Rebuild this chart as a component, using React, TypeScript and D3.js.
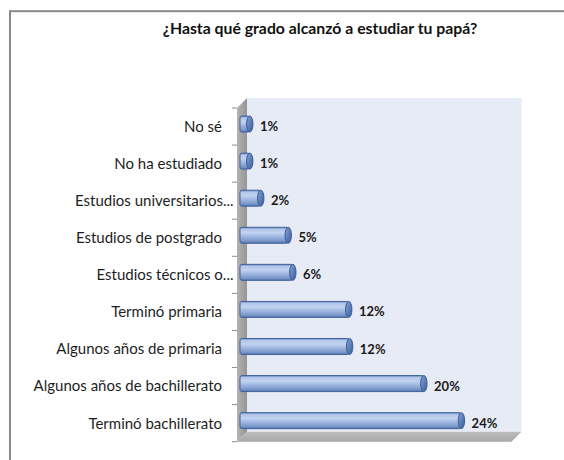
import React from "react";
import * as d3 from "d3";

const title = "¿Hasta qué grado alcanzó a estudiar tu papá?";
const categories = [
  "No sé",
  "No ha estudiado",
  "Estudios universitarios...",
  "Estudios de postgrado",
  "Estudios técnicos o...",
  "Terminó primaria",
  "Algunos años de primaria",
  "Algunos años de bachillerato",
  "Terminó bachillerato",
];
const values = [0.9, 0.9, 2.1, 5.1, 5.6, 11.7, 11.8, 19.9, 24.0];

const W = 564;
const H = 460;
const depthX = 10;
const depthY = 10;
const front = { left: 237, right: 511.5, top: 108, bottom: 441.7 };

export default function App() {
  const y = d3
    .scaleBand<string>()
    .domain(categories)
    .range([front.top, front.bottom])
    .paddingInner(0)
    .paddingOuter(0);
  const x = d3.scaleLinear().domain([0, 30]).range([241.5, 516.4]);
  const barH = 16;
  const capRx = 3.2;
  const barShift = -2.5;

  const backL = front.left + depthX;
  const backR = front.right + depthX;
  const backT = front.top - depthY;
  const backB = front.bottom - depthY;

  const ticks = [...categories.map((c) => y(c) as number), front.bottom];
  const labelFont = "Lato, 'Open Sans', sans-serif";

  return (
    <svg
      width={W}
      height={H}
      style={{ position: "absolute", left: 0, top: 0, background: "#fff" }}
    >
      <defs>
        <linearGradient id="barGrad" x1="0" y1="0" x2="0" y2="1">
          <stop offset="0%" stopColor="#6a88bf" />
          <stop offset="12%" stopColor="#b2c6ea" />
          <stop offset="35%" stopColor="#c2d3f0" />
          <stop offset="60%" stopColor="#9db5e0" />
          <stop offset="85%" stopColor="#7c98cb" />
          <stop offset="100%" stopColor="#5373ab" />
        </linearGradient>
        <linearGradient id="capGrad" x1="0" y1="0" x2="1" y2="1">
          <stop offset="0%" stopColor="#86a3d6" />
          <stop offset="50%" stopColor="#5d7fba" />
          <stop offset="100%" stopColor="#3e5e96" />
        </linearGradient>
        <linearGradient id="sideGrad" x1="0" y1="0" x2="1" y2="0">
          <stop offset="0%" stopColor="#b3b3b3" />
          <stop offset="100%" stopColor="#959595" />
        </linearGradient>
        <linearGradient id="floorGrad" x1="0" y1="0" x2="0" y2="1">
          <stop offset="0%" stopColor="#bdbdbd" />
          <stop offset="100%" stopColor="#a8a8a8" />
        </linearGradient>
      </defs>

      <rect x={10} y={11.2} width={700} height={700} fill="#fff" stroke="#8a8a8a" strokeWidth={2} />

      <text
        x={320}
        y={34}
        textAnchor="middle"
        fontFamily={labelFont}
        fontWeight="bold"
        fontSize={15.8}
        fill="#111"
      >
        {title}
      </text>

      {/* back wall */}
      <rect x={backL} y={backT} width={backR - backL} height={backB - backT} fill="#e7ebf5" />
      {/* side wall */}
      <polygon
        points={`${front.left},${front.top} ${backL},${backT} ${backL},${backB} ${front.left},${front.bottom}`}
        fill="url(#sideGrad)"
      />
      {/* floor */}
      <polygon
        points={`${front.left},${front.bottom} ${backL},${backB} ${backR},${backB} ${front.right},${front.bottom}`}
        fill="url(#floorGrad)"
      />

      {/* ticks */}
      {ticks.map((t, i) => (
        <line key={i} x1={232} x2={front.left} y1={t} y2={t} stroke="#8c8c8c" strokeWidth={1} />
      ))}

      {/* category labels */}
      {categories.map((c) => {
        const cy = (y(c) as number) + y.bandwidth() / 2;
        const ell = c.endsWith("...");
        return (
          <text
            key={c}
            x={ell ? 233.5 : 222}
            y={cy}
            dy="0.36em"
            textAnchor="end"
            fontFamily={labelFont}
            fontSize={15}
            fill="#1e1e1e"
          >
            {c}
          </text>
        );
      })}

      {/* bars */}
      {categories.map((c, i) => {
        const v = values[i];
        const cy = (y(c) as number) + y.bandwidth() / 2 + barShift;
        const x0 = x(0) - 1.5;
        const x1 = x(v);
        return (
          <g key={c}>
            <rect
              x={x0}
              y={cy - barH / 2}
              width={x1 - x0}
              height={barH}
              rx={2}
              fill="url(#barGrad)"
              stroke="#41639c"
              strokeWidth={1}
            />
            <ellipse
              cx={x1}
              cy={cy}
              rx={capRx}
              ry={barH / 2}
              fill="url(#capGrad)"
              stroke="#3a5a92"
              strokeWidth={1}
            />
            <text
              x={x1 + capRx + 7}
              y={cy + 2.5}
              dy="0.35em"
              fontFamily={labelFont}
              fontWeight="bold"
              fontSize={13}
              fill="#1a1a1a"
            >
              {`${Math.round(v)}%`}
            </text>
          </g>
        );
      })}
    </svg>
  );
}
